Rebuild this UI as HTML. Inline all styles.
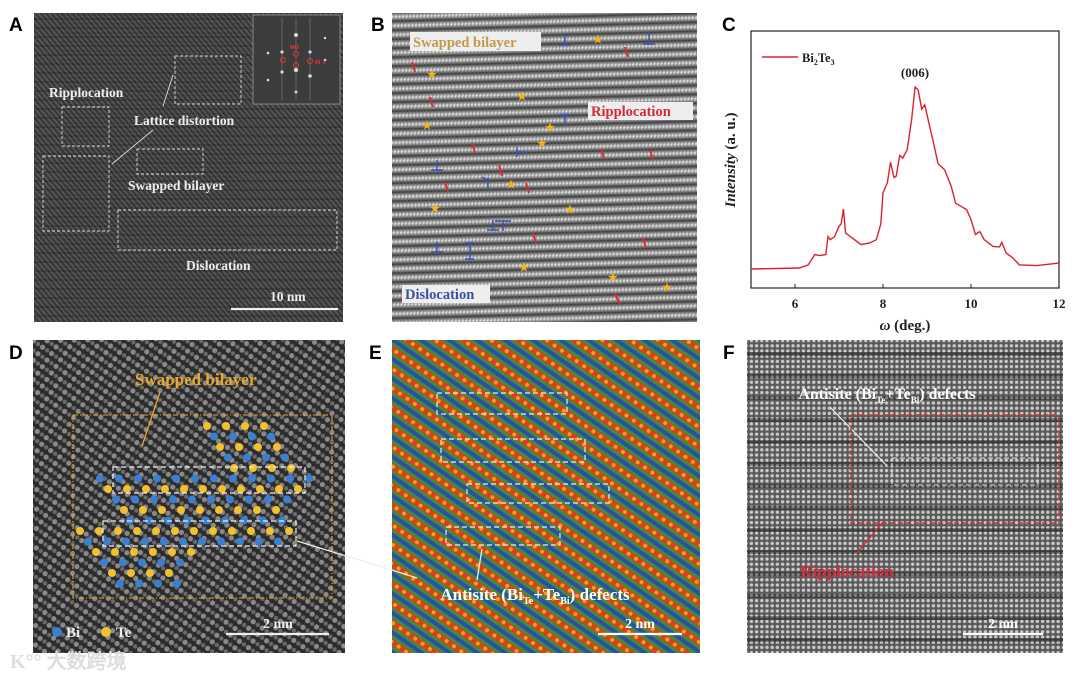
<!DOCTYPE html>
<html><head><meta charset="utf-8"><style>
html,body{margin:0;padding:0;background:#fff;width:1080px;height:680px;overflow:hidden}
svg text{font-family:"Liberation Serif",serif;font-weight:bold}
.lt{font-family:"Liberation Sans",sans-serif;font-weight:bold;font-size:19px}
</style></head><body>
<svg id="fig" width="1080" height="680" viewBox="0 0 1080 680" xmlns="http://www.w3.org/2000/svg">
<defs>
<pattern id="pA" width="4" height="4" patternUnits="userSpaceOnUse" patternTransform="rotate(-40)"><rect width="4" height="4" fill="#3a3a3a"/><rect width="1.5" height="4" fill="#5a5a5a"/></pattern>
<pattern id="pAh" width="300" height="9" patternUnits="userSpaceOnUse"><rect y="0" width="300" height="2" fill="#000" opacity="0.18"/><rect x="60" y="5" width="180" height="1.5" fill="#000" opacity="0.12"/></pattern>
<linearGradient id="gB" x1="0" y1="0" x2="0" y2="1"><stop offset="0" stop-color="#e8e8e8"/><stop offset="0.5" stop-color="#333"/><stop offset="1" stop-color="#e8e8e8"/></linearGradient>
<pattern id="pB" width="300" height="9" patternUnits="userSpaceOnUse" patternTransform="rotate(-1.5)"><rect width="300" height="9" fill="url(#gB)"/></pattern>
<pattern id="pBv" width="3.5" height="3.5" patternUnits="userSpaceOnUse" patternTransform="rotate(8)"><rect width="1.4" height="3.5" fill="#666" opacity="0.5"/></pattern>
<pattern id="pD" width="11" height="8" patternUnits="userSpaceOnUse" patternTransform="rotate(35)"><rect width="11" height="8" fill="#2c2c2c"/><circle cx="3" cy="4" r="2.6" fill="#8a8a8a"/><circle cx="8.5" cy="4" r="2.2" fill="#6a6a6a"/></pattern>
<pattern id="pE" width="16" height="9" patternUnits="userSpaceOnUse" patternTransform="rotate(-55)"><rect width="16" height="9" fill="#3f8c3c"/><rect x="0" width="6" height="9" fill="#d8401c"/><rect x="9" width="4" height="9" fill="#2b4fa8"/><circle cx="3" cy="4.5" r="2" fill="#f5a020"/></pattern>
<pattern id="pF" width="5.2" height="5.2" patternUnits="userSpaceOnUse"><rect width="5.2" height="5.2" fill="#5a5a5a"/><circle cx="2.6" cy="2.6" r="1.7" fill="#cacaca"/></pattern>
<pattern id="pFh" width="320" height="22" patternUnits="userSpaceOnUse"><rect y="0" width="320" height="4" fill="#111" opacity="0.4"/></pattern>
</defs>

<text class="lt" x="9" y="31">A</text>
<text class="lt" x="371" y="31">B</text>
<text class="lt" x="722" y="31">C</text>
<text class="lt" x="9" y="359">D</text>
<text class="lt" x="369" y="359">E</text>
<text class="lt" x="723" y="359">F</text>

<g>
<rect x="34" y="13" width="309" height="309" fill="url(#pA)"/>
<rect x="34" y="13" width="309" height="309" fill="url(#pAh)"/>
<rect x="253" y="15" width="87" height="89" fill="#3c3c3c" stroke="#999" stroke-width="0.8"/>
<g fill="#ddd"><circle cx="296" cy="35" r="2"/><circle cx="296" cy="70" r="2.2"/><circle cx="282" cy="52" r="1.6"/><circle cx="310" cy="52" r="1.6"/><circle cx="282" cy="72" r="1.6"/><circle cx="310" cy="76" r="1.8"/><circle cx="268" cy="53" r="1.3"/><circle cx="325" cy="60" r="1.3"/><circle cx="268" cy="80" r="1.3"/><circle cx="296" cy="92" r="1.5"/><circle cx="325" cy="38" r="1.2"/></g>
<g stroke="#aaa" stroke-width="0.6" opacity="0.6"><line x1="282" y1="18" x2="282" y2="100"/><line x1="296" y1="18" x2="296" y2="100"/><line x1="310" y1="18" x2="310" y2="100"/></g>
<g fill="none" stroke="#e33" stroke-width="0.9"><circle cx="296" cy="54" r="2.5"/><circle cx="296" cy="65" r="2.5"/><circle cx="283" cy="60" r="2.5"/><circle cx="310" cy="61" r="2.5"/></g>
<text x="290" y="49" font-size="6" fill="#e33">003</text><text x="315" y="64" font-size="6" fill="#e33">01 1</text>
<g fill="none" stroke="#ddd" stroke-width="0.9" stroke-dasharray="3,2">
<rect x="175" y="56" width="66" height="48"/><rect x="62" y="107" width="47" height="39"/><rect x="43" y="156" width="66" height="75"/><rect x="137" y="149" width="66" height="25"/><rect x="118" y="210" width="219" height="40"/></g>
<g stroke="#ddd" stroke-width="0.9"><line x1="163" y1="106" x2="173" y2="75"/><line x1="112" y1="164" x2="153" y2="130"/></g>
<g fill="#eee" font-size="13.5">
<text x="49" y="97">Ripplocation</text>
<text x="134" y="125">Lattice distortion</text>
<text x="128" y="190">Swapped bilayer</text>
<text x="186" y="270">Dislocation</text>
<text x="270" y="301">10 nm</text></g>
<line x1="231" y1="309" x2="338" y2="309" stroke="#eee" stroke-width="2.2"/>
</g>

<g>
<rect x="392" y="13" width="305" height="309" fill="#888"/>
<rect x="392" y="13" width="305" height="309" fill="url(#pB)"/>
<rect x="392" y="13" width="305" height="309" fill="url(#pBv)"/>
<rect x="410" y="32" width="131" height="19" fill="#eee"/>
<text x="413" y="47" font-size="14.5" fill="#c29a4a">Swapped bilayer</text>
<rect x="588" y="102" width="105" height="18" fill="#eee"/>
<text x="591" y="116" font-size="14.5" fill="#d42a3a">Ripplocation</text>
<rect x="402" y="285" width="88" height="18" fill="#eee"/>
<text x="405" y="299" font-size="14.5" fill="#3a4fa0">Dislocation</text>
<g fill="#f3b51c" font-size="11" font-family="DejaVu Sans"><text x="593" y="43">★</text><text x="427" y="78">★</text><text x="517" y="100">★</text><text x="422" y="129">★</text><text x="545" y="131">★</text><text x="537" y="147">★</text><text x="506" y="188">★</text><text x="430" y="212">★</text><text x="565" y="213">★</text><text x="519" y="271">★</text><text x="608" y="281">★</text><text x="662" y="291">★</text></g>
<g stroke="#e0283a" stroke-width="2"><line x1="412" y1="62" x2="415" y2="72"/><line x1="430" y1="97" x2="433" y2="107"/><line x1="472" y1="143" x2="475" y2="153"/><line x1="499" y1="165" x2="502" y2="176"/><line x1="445" y1="182" x2="448" y2="192"/><line x1="526" y1="183" x2="529" y2="193"/><line x1="601" y1="149" x2="604" y2="159"/><line x1="650" y1="150" x2="653" y2="160"/><line x1="625" y1="47" x2="628" y2="57"/><line x1="533" y1="233" x2="536" y2="243"/><line x1="643" y1="238" x2="646" y2="248"/><line x1="615" y1="294" x2="620" y2="304"/></g>
<g stroke="#3a4fb0" stroke-width="1.4" fill="none"><path d="M565 33v12M559 45h12"/><path d="M649 32v12M643 44h12"/><path d="M565 115v10M559 115h12"/><path d="M517 152h10M517 147v10"/><path d="M437 160v10M431 170h12"/><path d="M482 177l8 5M488 178v10"/><path d="M495 221h16M503 221v10"/><path d="M493 220v10M487 230h12"/><path d="M437 242v10M431 252h12"/><path d="M470 243v16M465 243h9M465 259h9"/></g>
</g>

<g id="chartC">
<rect x="751" y="31" width="308" height="257" fill="none" stroke="#222" stroke-width="1.2"/>
<g id="xticks"></g>
<path id="curve" fill="none" stroke="#d9222f" stroke-width="1.4"/>
<line x1="762" y1="57" x2="798" y2="57" stroke="#d9222f" stroke-width="1.4"/>
<text x="802" y="62" font-size="12.5" fill="#222">Bi<tspan font-size="8" dy="3">2</tspan><tspan dy="-3">Te</tspan><tspan font-size="8" dy="3">3</tspan></text>
<text x="915" y="77" font-size="13" fill="#222" text-anchor="middle">(006)</text>
<text transform="translate(735,160) rotate(-90)" font-size="15" fill="#222" text-anchor="middle"><tspan font-style="italic">Intensity</tspan> (a. u.)</text>
<text x="905" y="330" font-size="15" fill="#222" text-anchor="middle"><tspan font-style="italic">ω</tspan> (deg.)</text>
</g>

<g>
<rect x="33" y="340" width="312" height="313" fill="url(#pD)"/>
<text x="135" y="385" font-size="17" fill="#e6a82a">Swapped bilayer</text>
<line x1="160" y1="392" x2="142" y2="446" stroke="#e6a82a" stroke-width="1.3"/>
<rect x="73" y="415" width="259" height="183" fill="none" stroke="#e6a82a" stroke-width="1.1" stroke-dasharray="5,2,1,2"/>
<g id="atoms"></g>
<g fill="none" stroke="#eee" stroke-width="1.2" stroke-dasharray="5,3"><rect x="113" y="467" width="192" height="26"/><rect x="103" y="521" width="193" height="25"/></g>
<line x1="297" y1="541" x2="392" y2="570" stroke="#eee" stroke-width="1.2"/>
<circle cx="57" cy="632" r="5" fill="#3a7fd0"/><text x="66" y="637" font-size="15" fill="#eee">Bi</text>
<circle cx="106" cy="632" r="5" fill="#f3c02e"/><text x="116" y="637" font-size="15" fill="#eee">Te</text>
<text x="278" y="628" font-size="14" fill="#eee" text-anchor="middle">2 nm</text>
<line x1="226" y1="634" x2="329" y2="634" stroke="#eee" stroke-width="2.2"/>
</g>

<g>
<rect x="392" y="340" width="308" height="313" fill="url(#pE)"/>
<g fill="none" stroke="#eee" stroke-width="1.2" stroke-dasharray="5,3"><rect x="437" y="393" width="130" height="21"/><rect x="441" y="439" width="144" height="23"/><rect x="467" y="484" width="142" height="19"/><rect x="446" y="527" width="114" height="18"/></g>
<line x1="392" y1="570" x2="417" y2="578" stroke="#eee" stroke-width="1.2"/>
<line x1="477" y1="580" x2="482" y2="549" stroke="#eee" stroke-width="1.3"/>
<text x="535" y="600" font-size="17" fill="#fff" text-anchor="middle">Antisite (Bi<tspan font-size="10" dy="4">Te</tspan><tspan dy="-4">+Te</tspan><tspan font-size="10" dy="4">Bi</tspan><tspan dy="-4">) defects</tspan></text>
<text x="640" y="628" font-size="14" fill="#fff" text-anchor="middle">2 nm</text>
<line x1="598" y1="634" x2="682" y2="634" stroke="#fff" stroke-width="2.2"/>
</g>

<g>
<rect x="747" y="340" width="316" height="313" fill="url(#pF)"/>
<rect x="747" y="345" width="316" height="308" fill="url(#pFh)"/>
<text x="887" y="399" font-size="16" fill="#fff" text-anchor="middle">Antisite (Bi<tspan font-size="9" dy="4">Te</tspan><tspan dy="-4">+Te</tspan><tspan font-size="9" dy="4">Bi</tspan><tspan dy="-4">) defects</tspan></text>
<line x1="830" y1="407" x2="887" y2="466" stroke="#eee" stroke-width="1.2"/>
<rect x="851" y="415" width="208" height="108" fill="none" stroke="#d42a3a" stroke-width="1.4" stroke-dasharray="5,3"/>
<rect x="892" y="458" width="146" height="27" fill="none" stroke="#ddd" stroke-width="1.1" stroke-dasharray="5,3"/>
<line x1="857" y1="553" x2="883" y2="522" stroke="#d42a3a" stroke-width="1.4"/>
<text x="847" y="577" font-size="17" fill="#d42a3a" text-anchor="middle">Ripplocation</text>
<text x="1003" y="628" font-size="14" fill="#fff" text-anchor="middle">2 nm</text>
<line x1="963" y1="634" x2="1043" y2="634" stroke="#fff" stroke-width="2.2"/>
</g>

<text x="10" y="668" font-size="20" fill="#ddd" font-family="Liberation Sans, Noto Sans CJK SC, sans-serif">K°° 大数跨境</text>
</svg>
<script>
const omega = [5.0,6.1,6.3,6.45,6.55,6.7,6.75,6.8,6.9,7.0,7.05,7.1,7.15,7.3,7.5,7.7,7.85,7.95,8.0,8.1,8.17,8.25,8.3,8.38,8.45,8.55,8.65,8.73,8.8,8.88,8.95,9.05,9.15,9.25,9.4,9.55,9.65,9.75,9.9,10.0,10.1,10.2,10.3,10.5,10.65,10.7,10.8,10.95,11.1,11.5,12.0];
const intensity = [7.4,7.8,9,13,12.6,13,20,18.8,20,24,25,30.7,21.4,19.5,16.9,17.5,18.8,25,37,41,49,43,43.5,51.6,50.6,53.8,65.5,78.2,77,69.6,71.3,63.6,56.4,48.4,46,39.6,33,32,30.5,26.6,20.8,22,18.8,16.2,16,17.8,13.6,11.7,9,8.7,9.7];
const xTickLabels = ["6","8","10","12"];
const xTickValues = [6,8,10,12];
const xMin=5,xMax=12,yMin=0,yMax=100;
const L=751,R=1059,T=31,B=288;
function xs(v){return L+(v-xMin)/(xMax-xMin)*(R-L);}
function ys(v){return B-(v-yMin)/(yMax-yMin)*(B-T);}
const NS="http://www.w3.org/2000/svg";
let d="";
for(let i=0;i<omega.length;i++){d+=(i?"L":"M")+xs(omega[i]).toFixed(1)+" "+ys(intensity[i]).toFixed(1);}
document.getElementById("curve").setAttribute("d",d);
const xt=document.getElementById("xticks");
for(let i=0;i<xTickValues.length;i++){
  const x=xs(xTickValues[i]);
  const ln=document.createElementNS(NS,"line");
  ln.setAttribute("x1",x);ln.setAttribute("x2",x);ln.setAttribute("y1",B);ln.setAttribute("y2",B-4);
  ln.setAttribute("stroke","#222");
  
  
  xt.appendChild(ln);
  const t=document.createElementNS(NS,"text");
  t.setAttribute("x",x);t.setAttribute("y",308);t.setAttribute("font-size","13");
  t.setAttribute("text-anchor","middle");t.setAttribute("fill","#222");
  t.textContent=xTickLabels[i];
  
  
  xt.appendChild(t);
}
const ag=document.getElementById("atoms");
const rows=[[207,270],[214,285],[220,292],[228,300],[234,306],[100,312],[108,306],[116,300],[124,294],[130,290],[80,292],[88,286],[96,192],[104,188],[112,184],[120,180]];
for(let r=0;r<rows.length;r++){
  const y=426+r*10.5;
  for(let x=rows[r][0];x<=rows[r][1];x+=19){
    const c=document.createElementNS(NS,"circle");
    c.setAttribute("cx",x);c.setAttribute("cy",y);c.setAttribute("r",4);
    c.setAttribute("fill",(r%2===0)?"#f3c02e":"#3a7fd0");
    
    
    ag.appendChild(c);
  }
}
</script>
</body></html>
